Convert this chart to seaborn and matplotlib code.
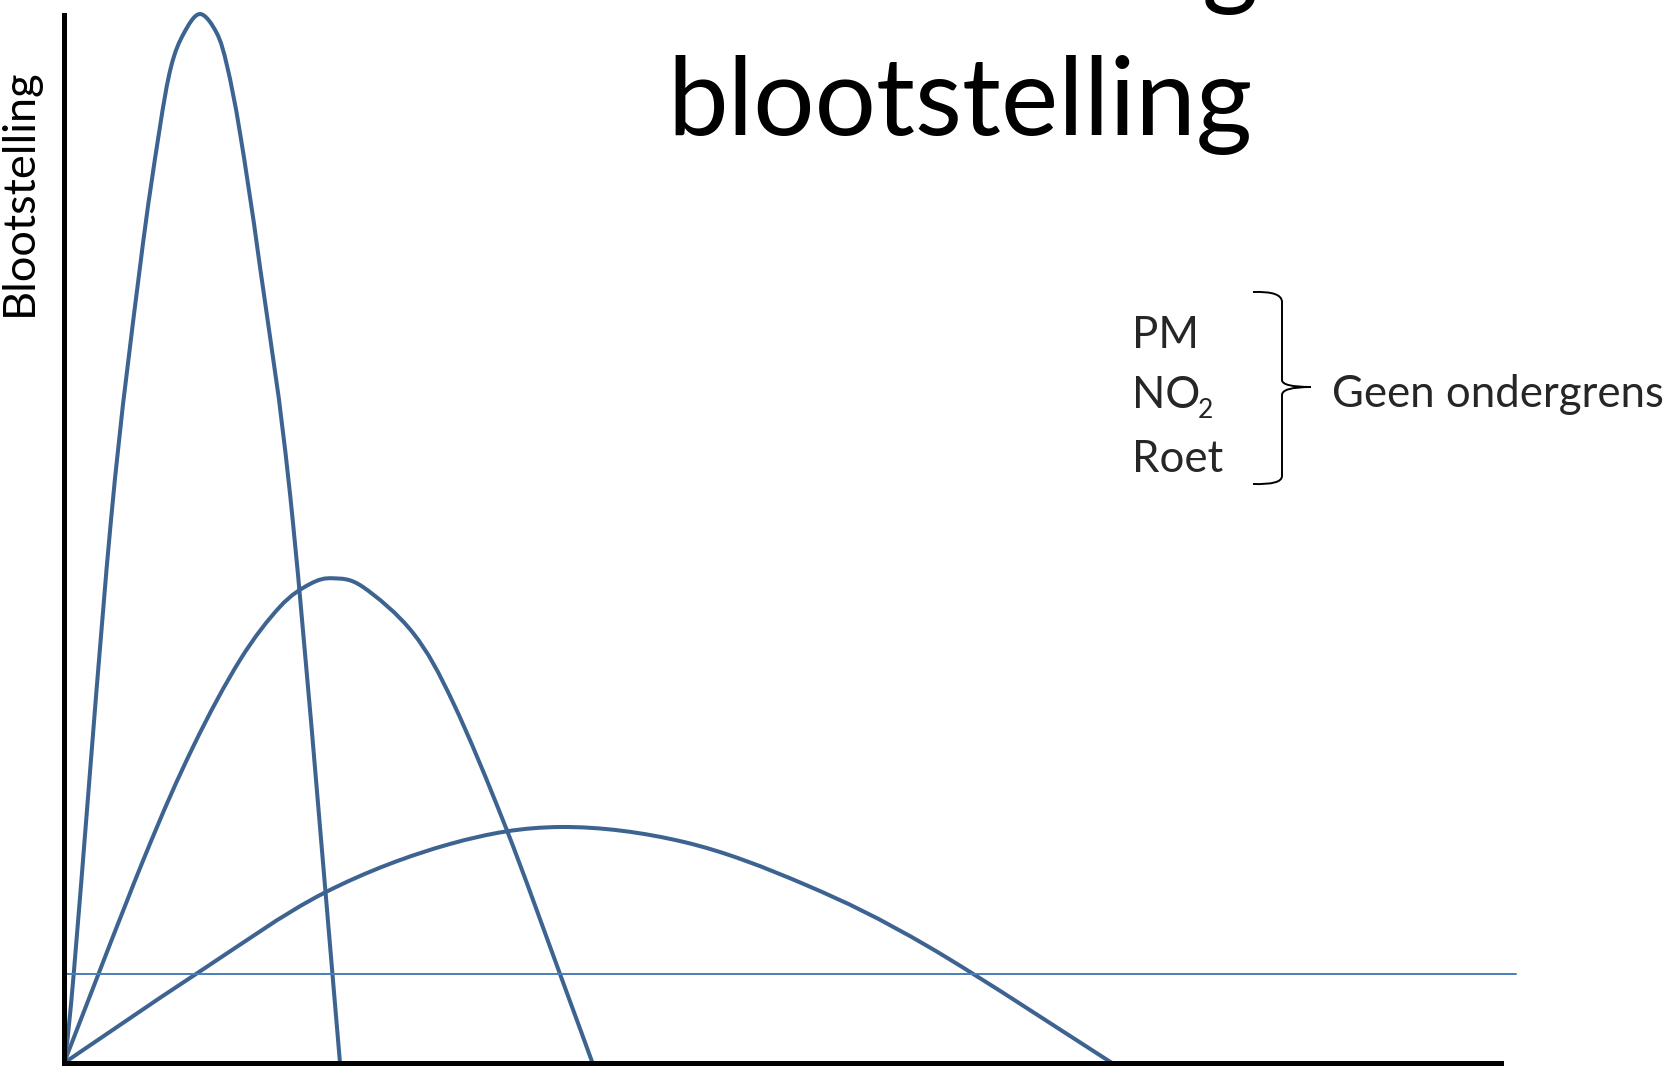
import numpy as np
import pandas as pd
import matplotlib
matplotlib.use('Agg')
import matplotlib.pyplot as plt
from matplotlib.path import Path
from matplotlib.patches import PathPatch
import seaborn as sns

sns.set_theme(style='white')
plt.rcParams['font.family'] = ['Lato', 'DejaVu Sans']
plt.rcParams['axes.unicode_minus'] = False

# ===== data (arbitrary units) =====
curve1_x = [0, 9.7, 47, 76, 95, 107, 120, 136, 152.7, 163.3, 176, 196, 228.7, 276]
curve1_y = [0, 89, 543, 796, 930, 996, 1030, 1049, 1030, 996, 930, 796, 543, 0]

curve2_x = [0, 79.3, 129, 176, 216, 246, 269.3, 299, 349.3, 389.3, 442, 496, 528.5]
curve2_y = [0, 203, 316, 403, 456.3, 479, 484.7, 476, 429.7, 360, 235, 89, 0]

curve3_x = [0, 132, 260, 386, 497, 620, 742, 865, 1048]
curve3_y = [0, 89, 170, 219, 236, 221, 178, 116, 0]

drempel_x = [0, 1452]
drempel_y = [89, 89]

x_as_einde = 1437

titel = 'blootstelling'
y_label = 'Blootstelling'
stoffen = ['PM', 'NO', 'Roet']
conclusie = 'Geen ondergrens'

# ===== style =====
kleur_curve = '#3D6491'
kleur_drempel = '#4A7EBB'

W, H = 1680, 1074


def glad_pad(xs, ys):
    # smoothed line through the points (like a 'smoothed line' chart option)
    pts = np.column_stack([xs, ys]).astype(float)
    n = len(pts)
    verts = [pts[0]]
    codes = [Path.MOVETO]
    for i in range(n - 1):
        p0 = pts[max(i - 1, 0)]
        p1 = pts[i]
        p2 = pts[i + 1]
        p3 = pts[min(i + 2, n - 1)]
        verts += [p1 + (p2 - p0) / 6, p2 - (p3 - p1) / 6, p2]
        codes += [Path.CURVE4] * 3
    return Path(verts, codes)


fig = plt.figure(figsize=(W / 100, H / 100), dpi=100)
fig.patch.set_facecolor('white')

# main axes, 1 data unit = 1 pixel
ax = fig.add_axes([64 / W, 11 / H, 1460 / W, 1048 / H])
ax.set_xlim(0, 1460)
ax.set_ylim(0, 1048)
ax.set_facecolor('none')

for cx, cy in [(curve1_x, curve1_y), (curve2_x, curve2_y), (curve3_x, curve3_y)]:
    ax.add_patch(PathPatch(glad_pad(cx, cy), fill=False, edgecolor=kleur_curve,
                           linewidth=2.9, clip_on=False, joinstyle='round', capstyle='butt'))

sns.lineplot(x=drempel_x, y=drempel_y, ax=ax, color=kleur_drempel, linewidth=1.4,
             sort=False, estimator=None, clip_on=False)

ax.set_xticks([])
ax.set_yticks([])
ax.set_xlabel('')
ax.set_ylabel('')
for side in ['top', 'right']:
    ax.spines[side].set_visible(False)
for side in ['left', 'bottom']:
    ax.spines[side].set_color('black')
    ax.spines[side].set_linewidth(3.6)
ax.spines['bottom'].set_bounds(0, x_as_einde)

# overlay in pixel coordinates for texts and brace
ov = fig.add_axes([0, 0, 1, 1])
ov.set_xlim(0, W)
ov.set_ylim(H, 0)
ov.axis('off')
ov.patch.set_alpha(0)

ov.text(960, 135, titel, fontsize=78, ha='center', va='baseline', color='black')
# descender of the line above, cut off by the top edge
ov.text(1258, -5, 'g', fontsize=78, ha='right', va='baseline', color='black')

ov.text(32, 316, y_label, fontsize=32.5, rotation=90, rotation_mode='anchor',
        ha='left', va='baseline', color='black')

fs = 31.5
ov.text(1132, 348, stoffen[0], fontsize=fs, ha='left', va='baseline')
ov.text(1132, 408, stoffen[1], fontsize=fs, ha='left', va='baseline')
ov.text(1198, 418, '2', fontsize=19, ha='left', va='baseline')
ov.text(1132, 472, stoffen[2], fontsize=fs, ha='left', va='baseline')
ov.text(1332, 407, conclusie, fontsize=fs, ha='left', va='baseline')

# curly brace
verts = [(1253, 292), (1282, 291), (1282, 302),
         (1282, 380),
         (1282, 387), (1311, 387),
         (1282, 387), (1282, 395),
         (1282, 476),
         (1282, 485), (1253, 484)]
codes = [Path.MOVETO, Path.CURVE3, Path.CURVE3,
         Path.LINETO,
         Path.CURVE3, Path.CURVE3,
         Path.CURVE3, Path.CURVE3,
         Path.LINETO,
         Path.CURVE3, Path.CURVE3]
ov.add_patch(PathPatch(Path(verts, codes), fill=False, edgecolor='black', linewidth=1.4))

fig.savefig('out.png', dpi=100)
plt.close()
